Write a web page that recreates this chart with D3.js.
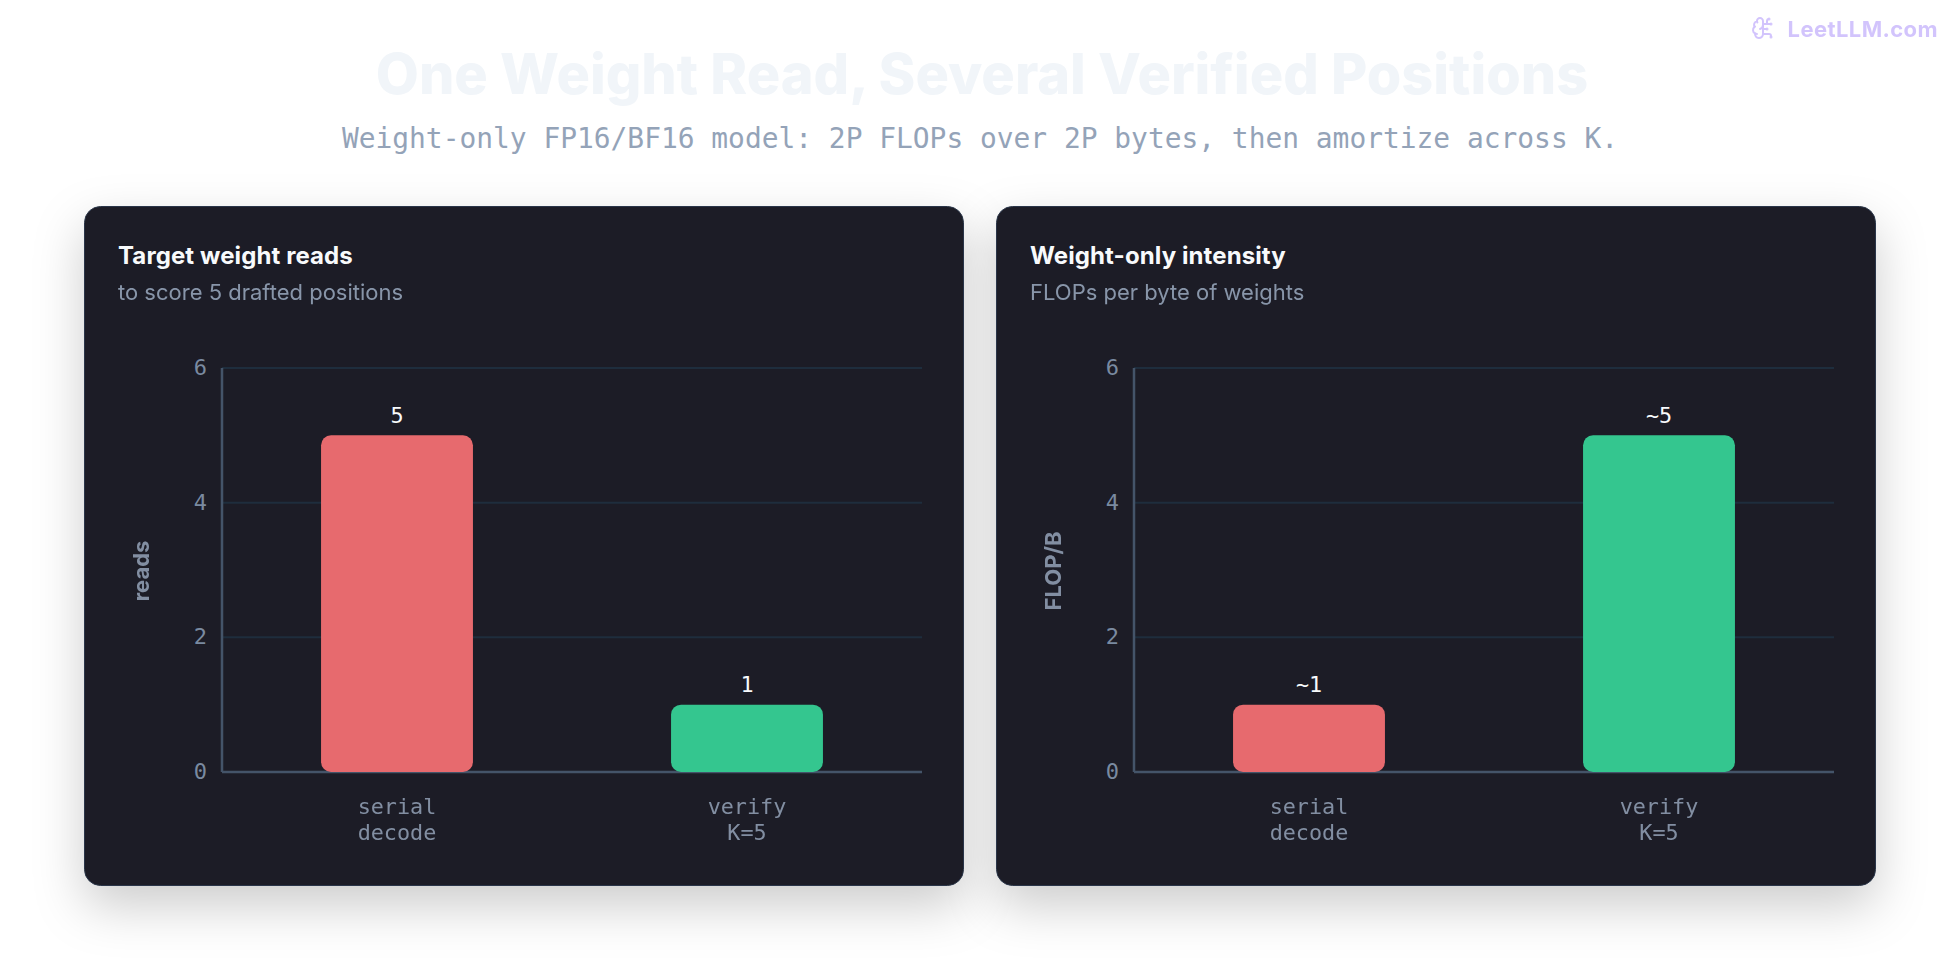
<!DOCTYPE html>
<html><head><meta charset="utf-8">
<script src="https://cdnjs.cloudflare.com/ajax/libs/d3/7.9.0/d3.min.js"></script>
<style>
html,body{margin:0;padding:0;background:#fff;width:1960px;height:960px;overflow:hidden}
svg{display:block}
</style></head><body><div id="c"></div>
<script>
const pageTitle = "One Weight Read, Several Verified Positions";
const pageSubtitle = "Weight-only FP16/BF16 model: 2P FLOPs over 2P bytes, then amortize across K.";
const watermark = "LeetLLM.com";
const categories = ["serial\ndecode", "verify\nK=5"];
const yTicks = [0, 2, 4, 6];
const barColors = ["#e76a6e", "#34c68f"];
const readsValues = [5, 1];
const readsLabels = ["5", "1"];
const intensityValues = [1, 5];
const intensityLabels = ["~1", "~5"];
const panels = [
  {title:"Target weight reads", sub:"to score 5 drafted positions", yLabel:"reads", values:readsValues, labels:readsLabels},
  {title:"Weight-only intensity", sub:"FLOPs per byte of weights", yLabel:"FLOP/B", values:intensityValues, labels:intensityLabels}
];
const sans = "Inter, 'Noto Sans', sans-serif";
const mono = "'DejaVu Sans Mono', 'Liberation Mono', monospace";

const svg = d3.select("#c").append("svg").attr("width",1960).attr("height",960);
const defs = svg.append("defs");
const f = defs.append("filter").attr("id","sh").attr("x","-20%").attr("y","-20%").attr("width","140%").attr("height","150%");
f.append("feDropShadow").attr("dx",0).attr("dy",20).attr("stdDeviation",25).attr("flood-color","#000").attr("flood-opacity",0.2);

svg.append("text").attr("x",982).attr("y",94).attr("text-anchor","middle")
  .attr("font-family",sans).attr("font-weight",800).attr("font-size",55.8).attr("fill","#f1f5f9").text(pageTitle);
svg.append("text").attr("x",980).attr("y",148).attr("text-anchor","middle")
  .attr("font-family",mono).attr("font-size",27.9).attr("fill","#94a3b8").text(pageSubtitle);

// watermark
const wm = svg.append("g").attr("opacity",0.5);
wm.append("text").attr("x",1938).attr("y",37).attr("text-anchor","end")
  .attr("font-family",sans).attr("font-weight",700).attr("font-size",22).attr("letter-spacing",0.4).attr("fill","#a78bfa").text(watermark);
const icon = wm.append("g").attr("transform","translate(1751,16) scale(1)").attr("fill","none").attr("stroke","#a78bfa").attr("stroke-width",2).attr("stroke-linecap","round").attr("stroke-linejoin","round");
["M12 5a3 3 0 1 0-5.997.125 4 4 0 0 0-2.526 5.77 4 4 0 0 0 .556 6.588A4 4 0 1 0 12 18Z",
 "M9 13a4.5 4.5 0 0 0 3-4","M6.003 5.125A3 3 0 0 0 6.401 6.5","M3.477 10.896a4 4 0 0 1 .585-.396","M6 18a4 4 0 0 1-1.967-.516",
 "M12 13h4","M12 18h6a2 2 0 0 1 2 2v1","M12 8h8","M16 8V5a2 2 0 0 1 2-2"].forEach(d=>icon.append("path").attr("d",d));
icon.append("circle").attr("cx",16).attr("cy",13).attr("r",.5);
icon.append("circle").attr("cx",18).attr("cy",3).attr("r",.5);
icon.append("circle").attr("cx",20).attr("cy",21).attr("r",.5);
icon.append("circle").attr("cx",20).attr("cy",8).attr("r",.5);

const m = {cardW:880, cardH:680, top:206, plotL:138, plotR:838, plotT:162, plotB:566};
const y = d3.scaleLinear().domain([0,6]).range([m.plotB,m.plotT]);
const x = d3.scaleBand().domain(categories).range([m.plotL,m.plotR]).paddingInner(0.566).paddingOuter(0.283);

panels.forEach((p,i)=>{
  const g = svg.append("g").attr("transform",`translate(${84+i*912},${m.top})`);
  g.append("rect").attr("x",.5).attr("y",.5).attr("width",m.cardW-1).attr("height",m.cardH-1).attr("rx",16)
    .attr("fill","#1a1b26").attr("stroke","#2a3648").attr("stroke-width",1).attr("filter","url(#sh)");
  g.append("text").attr("x",34).attr("y",58).attr("font-family",sans).attr("font-weight",700).attr("font-size",24).attr("letter-spacing",0.1).attr("fill","#f8fafc").text(p.title);
  g.append("text").attr("x",34).attr("y",93.5).attr("font-family",sans).attr("font-size",22).attr("fill","#94a3b8").attr("opacity",.9).text(p.sub);

  // grid
  g.append("g").selectAll("line").data(yTicks.filter(t=>t>0)).join("line")
    .attr("x1",m.plotL).attr("x2",m.plotR).attr("y1",d=>y(d)).attr("y2",d=>y(d)).attr("stroke","#1e2d3d").attr("stroke-width",2);

  // axes
  const ya = d3.axisLeft(y).tickValues(yTicks).tickFormat(d3.format("d")).tickSize(0).tickPadding(15).offset(0);
  const yg = g.append("g").attr("transform",`translate(${m.plotL},0)`).call(ya);
  yg.select(".domain").attr("stroke","#445469").attr("stroke-width",2.5);
  yg.selectAll("text").attr("font-family",mono).attr("font-size",22).attr("fill","#7a8aa0");
  const xa = d3.axisBottom(x).tickSize(0).tickFormat("").offset(0);
  const xg = g.append("g").attr("transform",`translate(0,${m.plotB})`).call(xa);
  xg.select(".domain").attr("stroke","#445469").attr("stroke-width",2.5);
  xg.selectAll(".tick text").remove();

  // bars, rounded on all corners, painted over the axis line
  g.append("g").selectAll("rect").data(p.values).join("rect")
    .attr("x",(d,j)=>x(categories[j])).attr("width",x.bandwidth())
    .attr("y",d=>y(d)).attr("height",d=>y(0)-y(d)).attr("rx",10)
    .attr("fill",(d,j)=>barColors[j]);

  categories.forEach((c,j)=>{
    c.split("\n").forEach((line,k)=>{
      g.append("text").attr("x",x(c)+x.bandwidth()/2).attr("y",608+k*26).attr("text-anchor","middle")
        .attr("font-family",mono).attr("font-size",21.8).attr("fill","#94a3b8").attr("opacity",.85).text(line);
    });
  });

  // value labels
  g.append("g").selectAll("text").data(p.values).join("text")
    .attr("x",(d,j)=>x(categories[j])+x.bandwidth()/2).attr("y",d=>y(d)-12.5)
    .attr("text-anchor","middle").attr("font-family",mono).attr("font-size",21.8).attr("fill","#f8fafc")
    .text((d,j)=>p.labels[j]);

  g.append("text").attr("transform",`translate(57,${y(3)+1}) rotate(-90)`).attr("text-anchor","middle").attr("dy","0.35em")
    .attr("font-family",sans).attr("font-weight",700).attr("font-size",22).attr("fill","#94a3b8").attr("opacity",.85).text(p.yLabel);
});
</script></body></html>
